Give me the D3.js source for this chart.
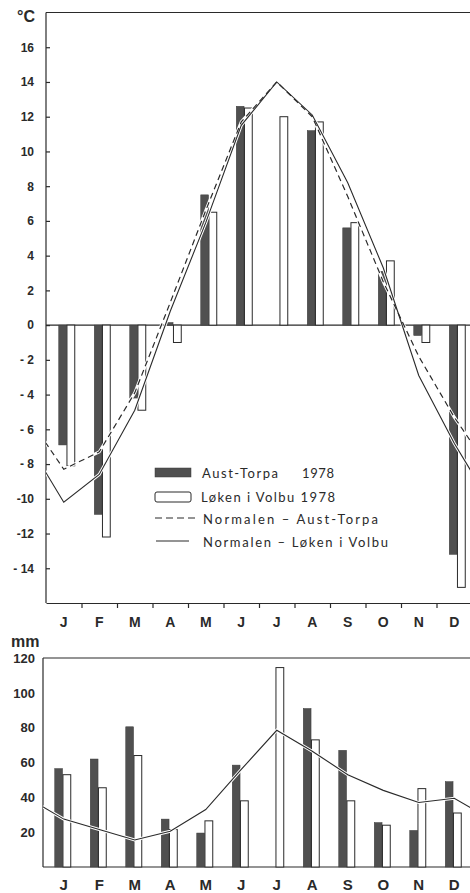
<!DOCTYPE html>
<html>
<head>
<meta charset="utf-8">
<script src="https://cdn.jsdelivr.net/npm/d3@7"></script>
<style>
  body { margin: 0; background: #fff; }
  svg { display: block; }
  .tick text { font-family: "Liberation Sans", Arial, sans-serif; font-weight: bold; fill: #2a2a2a; }
  .legend text { font-family: Lato, "Noto Sans", sans-serif; fill: #2a2a2a; }
</style>
</head>
<body>
<div id="chart"></div>
<script>
// month labels + data
const MONTHS = ["J", "F", "M", "A", "M", "J", "J", "A", "S", "O", "N", "D"];

// temperature 1978 (°C), null = no value
const tempAust = [-6.9, -10.9, -4.2, 0.15, 7.5, 12.6, null, 11.2, 5.6, 3.1, -0.6, -13.2];
const tempLoken = [-8.1, -12.2, -4.9, -1.0, 6.5, 12.5, 12.0, 11.7, 5.9, 3.7, -1.0, -15.1];
// normals
const normAust = [-8.3, -7.3, -3.9, 1.3, 6.6, 11.7, 14.0, 12.0, 7.4, 2.5, -1.8, -5.3];
const normLoken = [-10.2, -8.6, -4.9, 0.8, 5.9, 11.5, 14.0, 12.1, 8.2, 3.3, -2.9, -6.8];

// precipitation 1978 (mm)
const precAust = [56.5, 62, 80.5, 27.5, 19.5, 58.5, null, 91, 67, 25.5, 21, 49];
const precLoken = [53, 45.5, 64, 21.5, 26.5, 38, 114.5, 73, 38, 24, 45, 31];
const precNorm = [27.5, 21.5, 15.5, 20.5, 33, 56, 78.5, 66.5, 53, 44, 37, 39.5];

const tempTicks = [-14, -12, -10, -8, -6, -4, -2, 0, 2, 4, 6, 8, 10, 12, 14, 16];
const tempTickLabels = ["- 14", "-12", "-10", "- 8", "- 6", "- 4", "- 2", "0", "2", "4", "6", "8", "10", "12", "14", "16"];
const precTicks = [20, 40, 60, 80, 100, 120];

const W = 470, H = 893;
const LINE = "#2a2a2a";
const DARK = "#505050";

const svg = d3.select("#chart").append("svg").attr("width", W).attr("height", H);

// shared month scale (month i spans i..i+1)
const xMid = d3.scaleLinear().domain([0, 12]).range([46, 472]);

drawTemp();
drawPrec();
drawLegend();

function monthSeries(vals) {
  // wrap Dec before Jan and Jan after Dec so the line runs off both edges
  const pts = vals.map((v, i) => ({ i: i, v: v }));
  pts.unshift({ i: -1, v: vals[11] });
  pts.push({ i: 12, v: vals[0] });
  return pts;
}

function drawTemp() {
  const y = d3.scaleLinear().domain([-16, 18]).range([603, 12.5]);
  const inner = d3.scaleBand().domain(["aust", "loken"]).range([-5, 11]).paddingInner(0.05);
  const g = svg.append("g");

  svg.append("clipPath").attr("id", "clipT")
    .append("rect").attr("x", 46).attr("y", y(18)).attr("width", 426).attr("height", y(-16) - y(18));

  // frame
  g.append("line").attr("x1", 46).attr("x2", 470).attr("y1", y(18)).attr("y2", y(18))
    .attr("stroke", LINE).attr("stroke-width", 1.2);
  g.append("line").attr("x1", 46).attr("x2", 470).attr("y1", y(0)).attr("y2", y(0))
    .attr("stroke", LINE).attr("stroke-width", 1.2);

  const yAxis = g.append("g").attr("transform", "translate(46,0)")
    .call(d3.axisLeft(y).tickValues(tempTicks).tickSizeInner(-4).tickSizeOuter(0).tickPadding(12)
      .tickFormat((d, i) => tempTickLabels[i]));
  yAxis.selectAll("text").style("font-size", "12px");
  yAxis.select(".domain").attr("d", `M0,${y(18)}V${y(-16)}`);
  yAxis.selectAll("line, path").attr("stroke", LINE).attr("stroke-width", 1.2);

  const xAxis = g.append("g").attr("transform", `translate(0,${y(-16)})`)
    .call(d3.axisBottom(xMid).tickValues(d3.range(1, 12)).tickSize(5).tickSizeOuter(0).tickFormat(""));
  xAxis.selectAll("line, path").attr("stroke", LINE).attr("stroke-width", 1.2);

  g.selectAll(".mlab").data(MONTHS).join("text")
    .attr("x", (d, i) => xMid(i + 0.5)).attr("y", 627)
    .attr("text-anchor", "middle")
    .style("font-family", "Liberation Sans, Arial, sans-serif").style("font-weight", "bold")
    .style("font-size", "14px").attr("fill", "#2a2a2a")
    .text(d => d);

  g.append("text").attr("x", 17).attr("y", 22)
    .style("font-family", "Liberation Sans, Arial, sans-serif").style("font-weight", "bold")
    .style("font-size", "16px").attr("fill", "#2a2a2a").text("°C");

  // bars
  const rows = [];
  MONTHS.forEach((m, i) => {
    if (tempAust[i] !== null) rows.push({ i: i, k: "aust", v: tempAust[i] });
    if (tempLoken[i] !== null) rows.push({ i: i, k: "loken", v: tempLoken[i] });
  });
  g.selectAll(".tbar").data(rows).join("rect")
    .attr("x", d => xMid(d.i + 0.5) + inner(d.k))
    .attr("y", d => y(Math.max(0, d.v)))
    .attr("width", inner.bandwidth())
    .attr("height", d => Math.abs(y(d.v) - y(0)))
    .attr("fill", d => d.k === "aust" ? DARK : "#fff")
    .attr("stroke", d => d.k === "aust" ? "#3a3a3a" : LINE)
    .attr("stroke-width", d => d.k === "aust" ? 0.5 : 1);

  // normals
  const line = d3.line().x(d => xMid(d.i + 0.5)).y(d => y(d.v));
  const lg = g.append("g").attr("clip-path", "url(#clipT)");
  [normLoken, normAust].forEach(s => {
    lg.append("path").attr("d", line(monthSeries(s)))
      .attr("fill", "none").attr("stroke", "#fff").attr("stroke-width", 3);
  });
  lg.append("path").attr("d", line(monthSeries(normLoken)))
    .attr("fill", "none").attr("stroke", LINE).attr("stroke-width", 1.1);
  lg.append("path").attr("d", line(monthSeries(normAust)))
    .attr("fill", "none").attr("stroke", LINE).attr("stroke-width", 1.2)
    .attr("stroke-dasharray", "6,4");
}

function drawPrec() {
  const y = d3.scaleLinear().domain([0, 120]).range([867, 658]);
  const inner = d3.scaleBand().domain(["aust", "loken"]).range([-9, 7]).paddingInner(0.05);
  const g = svg.append("g");

  svg.append("clipPath").attr("id", "clipP")
    .append("rect").attr("x", 43).attr("y", y(120)).attr("width", 427).attr("height", y(0) - y(120));

  g.append("line").attr("x1", 43).attr("x2", 470).attr("y1", y(120)).attr("y2", y(120))
    .attr("stroke", LINE).attr("stroke-width", 1.2);
  g.append("line").attr("x1", 43).attr("x2", 470).attr("y1", y(0)).attr("y2", y(0))
    .attr("stroke", LINE).attr("stroke-width", 1.2);

  const yAxis = g.append("g").attr("transform", "translate(43,0)")
    .call(d3.axisLeft(y).tickValues(precTicks).tickSize(0).tickPadding(8));
  yAxis.selectAll("text").style("font-size", "13px");
  yAxis.select(".domain").attr("d", `M0,${y(120)}V${y(0)}`).attr("stroke", LINE).attr("stroke-width", 1.2);

  g.selectAll(".mlab").data(MONTHS).join("text")
    .attr("x", (d, i) => xMid(i + 0.5)).attr("y", 890)
    .attr("text-anchor", "middle")
    .style("font-family", "Liberation Sans, Arial, sans-serif").style("font-weight", "bold")
    .style("font-size", "15px").attr("fill", "#2a2a2a")
    .text(d => d);

  g.append("text").attr("x", 11).attr("y", 647)
    .style("font-family", "Liberation Sans, Arial, sans-serif").style("font-weight", "bold")
    .style("font-size", "16px").attr("fill", "#2a2a2a").text("mm");

  const rows = [];
  MONTHS.forEach((m, i) => {
    if (precAust[i] !== null) rows.push({ i: i, k: "aust", v: precAust[i] });
    if (precLoken[i] !== null) rows.push({ i: i, k: "loken", v: precLoken[i] });
  });
  g.selectAll(".pbar").data(rows).join("rect")
    .attr("x", d => xMid(d.i + 0.5) + inner(d.k))
    .attr("y", d => y(d.v))
    .attr("width", inner.bandwidth())
    .attr("height", d => y(0) - y(d.v))
    .attr("fill", d => d.k === "aust" ? DARK : "#fff")
    .attr("stroke", d => d.k === "aust" ? "#3a3a3a" : LINE)
    .attr("stroke-width", d => d.k === "aust" ? 0.5 : 1);

  const line = d3.line().x(d => xMid(d.i + 0.5)).y(d => y(d.v));
  const lg = g.append("g").attr("clip-path", "url(#clipP)");
  lg.append("path").attr("d", line(monthSeries(precNorm)))
    .attr("fill", "none").attr("stroke", "#fff").attr("stroke-width", 3);
  lg.append("path").attr("d", line(monthSeries(precNorm)))
    .attr("fill", "none").attr("stroke", LINE).attr("stroke-width", 1.1);
}

function drawLegend() {
  const g = svg.append("g").attr("class", "legend");
  g.append("rect").attr("x", 155).attr("y", 468).attr("width", 36).attr("height", 9)
    .attr("fill", DARK).attr("stroke", "#3a3a3a").attr("stroke-width", 0.5);
  g.append("rect").attr("x", 155).attr("y", 492).attr("width", 36).attr("height", 10).attr("rx", 2)
    .attr("fill", "#fff").attr("stroke", LINE).attr("stroke-width", 1);
  g.append("line").attr("x1", 155).attr("x2", 196).attr("y1", 518).attr("y2", 518)
    .attr("stroke", LINE).attr("stroke-width", 1.2).attr("stroke-dasharray", "7,4");
  g.append("line").attr("x1", 156).attr("x2", 189).attr("y1", 541).attr("y2", 541)
    .attr("stroke", LINE).attr("stroke-width", 1.1);

  const items = [
    { t: "Aust-Torpa", x: 202, y: 478, len: 76 },
    { t: "1978", x: 302, y: 478, len: 32 },
    { t: "Løken i Volbu 1978", x: 201, y: 502, len: 134 },
    { t: "Normalen – Aust-Torpa", x: 203, y: 524, len: 175 },
    { t: "Normalen – Løken i Volbu", x: 203, y: 547, len: 185 }
  ];
  g.selectAll(".lt").data(items).join("text")
    .attr("x", d => d.x).attr("y", d => d.y)
    .attr("textLength", d => d.len).attr("lengthAdjust", "spacing")
    .style("font-size", "13px")
    .text(d => d.t);
}
</script>
</body>
</html>
